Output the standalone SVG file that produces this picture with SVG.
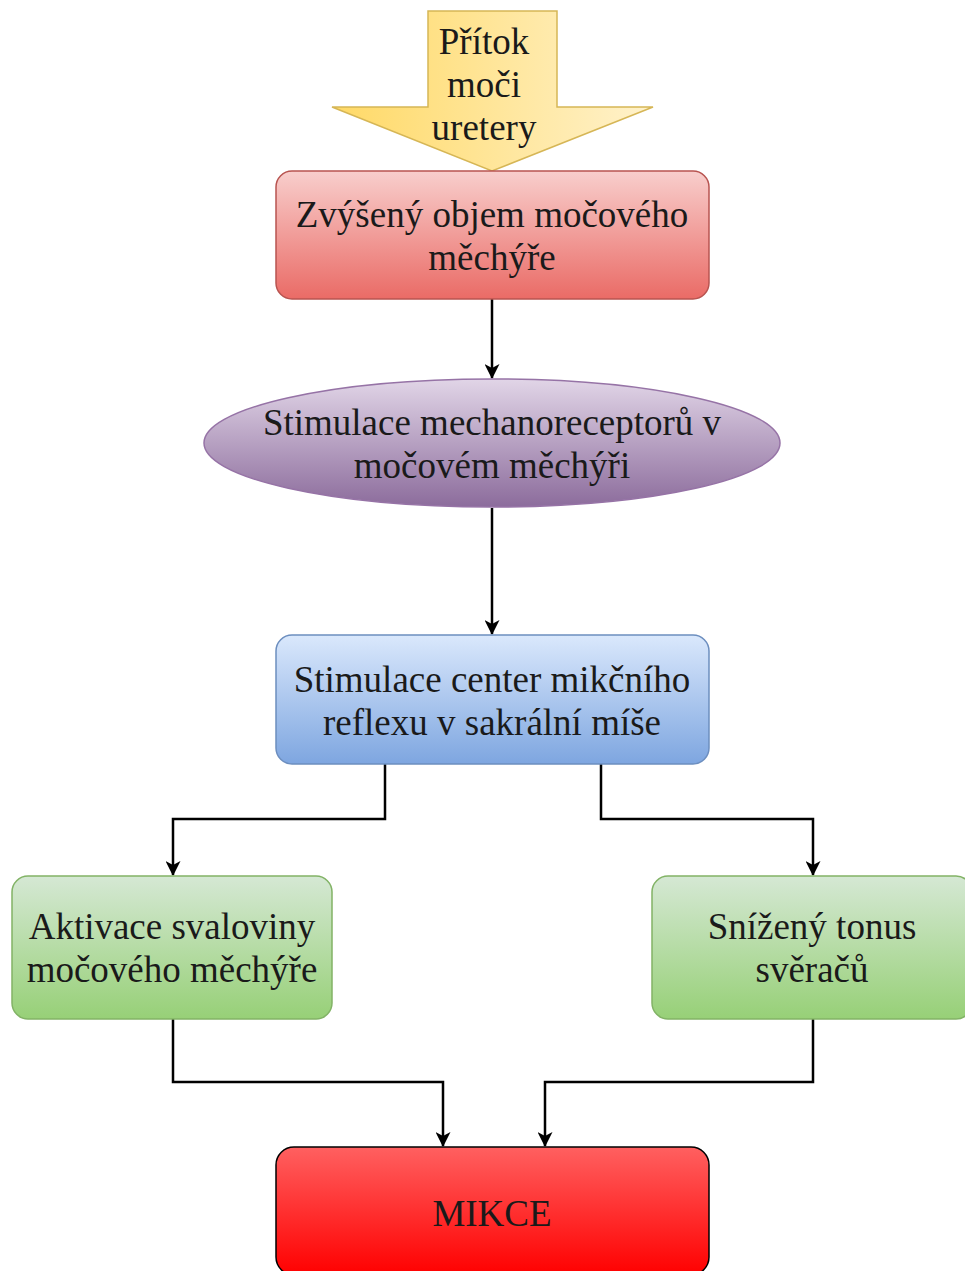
<svg xmlns="http://www.w3.org/2000/svg" width="965" height="1271" viewBox="0 0 965 1271">
<defs>
<linearGradient id="gY" x1="0" y1="0" x2="1" y2="0"><stop offset="0" stop-color="#ffd966"/><stop offset="1" stop-color="#fff2cc"/></linearGradient>
<linearGradient id="gR" x1="0" y1="0" x2="0" y2="1"><stop offset="0" stop-color="#f8cecc"/><stop offset="1" stop-color="#ea6b66"/></linearGradient>
<linearGradient id="gP" x1="0" y1="0" x2="0" y2="1"><stop offset="0" stop-color="#e1d5e7"/><stop offset="1" stop-color="#8c6c9c"/></linearGradient>
<linearGradient id="gB" x1="0" y1="0" x2="0" y2="1"><stop offset="0" stop-color="#dae8fc"/><stop offset="1" stop-color="#7ea6e0"/></linearGradient>
<linearGradient id="gG" x1="0" y1="0" x2="0" y2="1"><stop offset="0" stop-color="#d5e8d4"/><stop offset="1" stop-color="#97d077"/></linearGradient>
<linearGradient id="gM" x1="0" y1="0" x2="0" y2="1"><stop offset="0" stop-color="#ff6060"/><stop offset="1" stop-color="#ff0000"/></linearGradient>
<marker id="arr2" markerWidth="15" markerHeight="15" refX="14" refY="7.5" orient="auto" markerUnits="userSpaceOnUse" viewBox="0 0 15 15">
<path d="M0,0 L15,7.5 L0,15 L4,7.5 Z" fill="#000"/>
</marker>
</defs>
<style>
text{font-family:"Liberation Serif","Times New Roman",serif;font-size:37px;fill:#1a1a1a;text-anchor:middle}
.c{fill:none;stroke:#000;stroke-width:2.5;marker-end:url(#arr2)}
</style>
<g id="connectors">
<path class="c" d="M492,299 V378"/>
<path class="c" d="M492,508 V634"/>
<path class="c" d="M385,764 V819 H173 V875"/>
<path class="c" d="M601,764 V819 H813 V875"/>
<path class="c" d="M173,1019 V1082 H443 V1146"/>
<path class="c" d="M813,1019 V1082 H545 V1146"/>
</g>
<g id="pritok">
<path d="M428,11 H557 V107 H653 L492,171 L332,107 H428 Z" fill="url(#gY)" stroke="#d6b656" stroke-width="1.5"/>
<text x="484" y="54">Přítok</text>
<text x="484" y="97">moči</text>
<text x="484" y="140">uretery</text>
</g>
<g id="objem">
<rect x="276" y="171" width="433" height="128" rx="16" fill="url(#gR)" stroke="#b85450" stroke-width="1.5"/>
<text x="492" y="227">Zvýšený objem močového</text>
<text x="492" y="270">měchýře</text>
</g>
<g id="mechano">
<ellipse cx="492" cy="443" rx="288" ry="64" fill="url(#gP)" stroke="#9673a6" stroke-width="1.5"/>
<text x="492" y="435">Stimulace mechanoreceptorů v</text>
<text x="492" y="478">močovém měchýři</text>
</g>
<g id="centra">
<rect x="276" y="635" width="433" height="129" rx="16" fill="url(#gB)" stroke="#6c8ebf" stroke-width="1.5"/>
<text x="492" y="692">Stimulace center mikčního</text>
<text x="492" y="735">reflexu v sakrální míše</text>
</g>
<g id="aktivace">
<rect x="12" y="876" width="320" height="143" rx="16" fill="url(#gG)" stroke="#82b366" stroke-width="1.5"/>
<text x="172" y="939">Aktivace svaloviny</text>
<text x="172" y="982">močového měchýře</text>
</g>
<g id="tonus">
<rect x="652" y="876" width="320" height="143" rx="16" fill="url(#gG)" stroke="#82b366" stroke-width="1.5"/>
<text x="812" y="939">Snížený tonus</text>
<text x="812" y="982">svěračů</text>
</g>
<g id="mikce">
<rect x="276" y="1147" width="433" height="128" rx="18" fill="url(#gM)" stroke="#000" stroke-width="1.5"/>
<text x="492" y="1226">MIKCE</text>
</g>
</svg>
